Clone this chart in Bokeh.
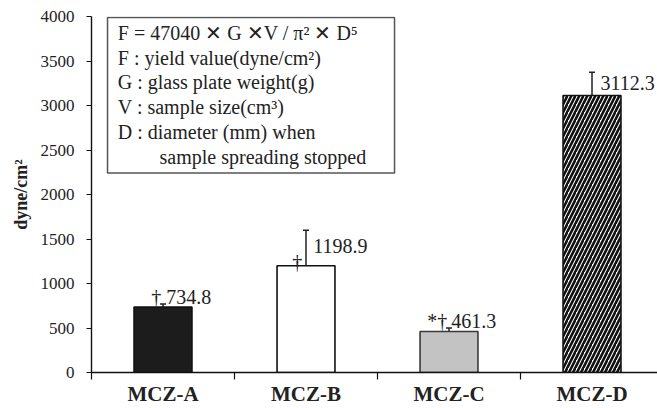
from bokeh.plotting import figure
from bokeh.models import Range1d, FixedTicker, ColumnDataSource, Whisker, TeeHead
from bokeh.core.properties import value
from bokeh.embed import file_html
from bokeh.resources import INLINE

# ---- data ----
categories = ["MCZ-A", "MCZ-B", "MCZ-C", "MCZ-D"]
means = [734.8, 1198.9, 461.3, 3112.3]
sds = [35.0, 400.0, 40.0, 260.0]
sig_marks = ["†", "†", "*†", ""]
y_ticks = [0, 500, 1000, 1500, 2000, 2500, 3000, 3500, 4000]
y_label = "dyne/cm²"
formula_lines = [
    "F = 47040 ✕ G ✕V / π² ✕ D⁵",
    "F : yield value(dyne/cm²)",
    "G : glass plate weight(g)",
    "V : sample size(cm³)",
    "D : diameter (mm) when",
    "sample spreading stopped",
]

SERIF = "Liberation Serif"
TXT = "#222222"

xc = [i + 0.5 for i in range(len(categories))]

p = figure(width=657, height=408, output_backend="svg", toolbar_location=None,
           x_range=Range1d(0, 3.958), y_range=Range1d(0, 4000),
           min_border_left=91, min_border_right=0, min_border_top=16,
           min_border_bottom=10)
p.outline_line_color = None
p.xgrid.visible = False
p.ygrid.visible = False
p.background_fill_color = "white"
p.border_fill_color = "white"

# ---- bars ----
fills = ["#1c1c1c", "white", "#c3c3c3", "white"]
lines = ["#111111", "#111111", "#3a3a3a", "#111111"]
hatches = [" ", " ", " ", "/"]
src = ColumnDataSource(dict(x=xc, top=means, fill=fills, line=lines, hatch=hatches,
                            lower=means, upper=[m + s for m, s in zip(means, sds)]))
p.vbar(x="x", top="top", bottom=0, width=0.405, source=src,
       fill_color="fill", line_color="line", line_width=1.6,
       hatch_pattern="hatch", hatch_color="#111111", hatch_scale=8, hatch_weight=2.6)

# ---- error bars (upper only) ----
w = Whisker(base="x", lower="lower", upper="upper", source=src, dimension="height",
            line_color="#222222", line_width=1.5, lower_head=None,
            upper_head=TeeHead(size=6, line_color="#222222", line_width=1.5))
p.add_layout(w)

# ---- value labels ----
vals = [f"{m:.1f}" for m in means]
lab = dict(x=[], y=[], text=[], dx=[], dy=[])
def add(i, t, dx, dy):
    lab["x"].append(xc[i]); lab["y"].append(means[i]); lab["text"].append(t)
    lab["dx"].append(dx); lab["dy"].append(dy)
add(0, f"{sig_marks[0]} {vals[0]}", -11.8, -10.4)
add(1, sig_marks[1], -13.8, -4)
add(1, vals[1], 7.2, -20)
add(2, f"{sig_marks[2]}\u2009{vals[2]}", -21.8, -10.8)
add(3, vals[3], 8.5, -12.5)
p.text(x="x", y="y", text="text", x_offset="dx", y_offset="dy",
       source=ColumnDataSource(lab), text_font=value(SERIF), text_font_size="20px",
       text_color=TXT, text_align="left", text_baseline="alphabetic")

# ---- formula box ----
p.quad(left=0.112, right=2.119, top=3990, bottom=2241, fill_color="white",
       line_color="#555555", line_width=1.5)
def py2y(py):
    return (373 - py) * 4000 / 357
fx = [0.184] * 5 + [0.476]
fy = [py2y(v) for v in (33, 57.5, 82, 107, 132, 157)]
p.text(x=fx, y=fy, text=formula_lines, text_font=value(SERIF), text_font_size="20px",
       text_color=TXT, text_align="left", text_baseline="middle")

# ---- axes ----
ya = p.yaxis[0]
ya.ticker = FixedTicker(ticks=y_ticks)
ya.major_tick_out = 5
ya.major_tick_in = 0
ya.minor_tick_out = 0
ya.minor_tick_in = 0
ya.major_label_standoff = 12
ya.major_label_text_font = SERIF
ya.major_label_text_font_size = "17px"
ya.major_label_text_color = TXT
ya.axis_line_color = "#111111"
ya.axis_line_width = 1.4
ya.major_tick_line_color = "#111111"
ya.major_tick_line_width = 1.2
ya.axis_label = y_label
ya.axis_label_text_font = SERIF
ya.axis_label_text_font_style = "bold"
ya.axis_label_text_font_size = "18px"
ya.axis_label_text_color = TXT
ya.axis_label_standoff = 7

xa = p.xaxis[0]
xa.ticker = FixedTicker(ticks=xc, minor_ticks=[0, 1, 2, 3, 4])
xa.major_label_overrides = {x: c for x, c in zip(xc, categories)}
xa.major_tick_out = 0
xa.major_tick_in = 0
xa.minor_tick_out = 7
xa.minor_tick_in = 0
xa.minor_tick_line_color = "#111111"
xa.minor_tick_line_width = 1.2
xa.major_label_standoff = 2
xa.major_label_text_font = SERIF
xa.major_label_text_font_style = "bold"
xa.major_label_text_font_size = "21px"
xa.major_label_text_color = TXT
xa.axis_line_color = "#111111"
xa.axis_line_width = 1.4

open("out.html", "w").write(file_html(p, INLINE))
